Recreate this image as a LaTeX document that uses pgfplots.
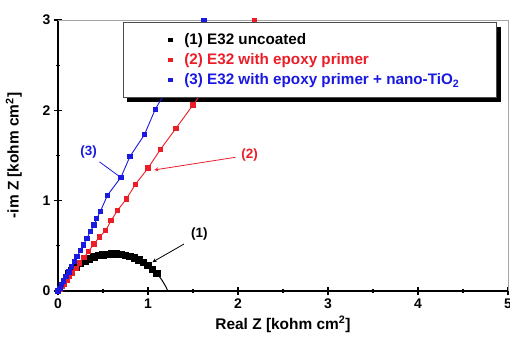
\documentclass[border=0pt]{standalone}
\usepackage{pgfplots}
\pgfplotsset{compat=1.18}
\usepackage{fontspec}
\setmainfont{Liberation Sans}
\usetikzlibrary{calc}
\pgfdeclarelayer{background}
\pgfsetlayers{background,main}
\definecolor{myred}{RGB}{235,30,40}
\definecolor{myblue}{RGB}{25,25,225}
\begin{document}
\begin{tikzpicture}
\begin{axis}[
  scale only axis, width=450bp, height=271bp,
  xmin=0, xmax=5, ymin=0, ymax=3,
  xtick={0,1,2,3,4,5}, ytick={0,1,2,3},
  minor x tick num=1, minor y tick num=1,
  axis x line*=bottom, axis y line*=left,
  axis line style={line width=1.6pt, black},
  tick style={black, line width=1.2pt},
  major tick length=8bp, minor tick length=4bp,
  tick align=center,
  /pgf/number format/assume math mode=true,
  tick label style={font=\bfseries\fontsize{14}{14}\selectfont},
  xlabel={Real Z [kohm cm\textsuperscript{2}]},
  ylabel={-im Z [kohm cm\textsuperscript{2}]},
  label style={font=\bfseries\fontsize{15.5}{17}\selectfont},
  xlabel style={yshift=-1bp},
  ylabel style={yshift=14bp},
  clip=false,
  legend style={name=leg, at={(axis cs:0.722,2.975)}, anchor=north west,
    draw=black!70, line width=0.6pt, fill=white,
    inner xsep=3bp, inner ysep=9bp,
    font=\bfseries\fontsize{15.3}{17}\selectfont,
    row sep=3.6bp},
  legend cell align=left,
  legend image code/.code={\path[draw=none,fill=none] (-44bp,0) -- (12bp,0); \draw[#1] plot coordinates {(0,0)};},
]
% (1) E32 uncoated -- thin arc
\addplot[black, line width=1pt, smooth, forget plot] coordinates {
(0,0) (0.05,0.098) (0.1,0.168) (0.15,0.223) (0.2,0.267) (0.25,0.303) (0.3,0.332)
(0.35,0.356) (0.4,0.375) (0.45,0.390) (0.5,0.400) (0.55,0.407) (0.6,0.410)
(0.65,0.409) (0.7,0.404) (0.75,0.395) (0.8,0.382) (0.85,0.365) (0.9,0.343)
(0.95,0.315) (1.0,0.282) (1.05,0.241) (1.1,0.191) (1.15,0.128) (1.2,0.044) (1.22,0)};
% (1) measured points (dense)
\addplot[black, line width=3.4pt, smooth, mark=square*, mark size=2bp, forget plot] coordinates {
(0.12,0.19) (0.15,0.223) (0.2,0.267) (0.25,0.303) (0.3,0.332)
(0.35,0.356) (0.4,0.375) (0.45,0.390) (0.5,0.400) (0.55,0.407) (0.6,0.410)
(0.65,0.409) (0.7,0.404) (0.75,0.395) (0.8,0.382) (0.85,0.365) (0.9,0.343)
(0.95,0.315) (1.0,0.282) (1.05,0.241) (1.1,0.191)};
% (2) red
\addplot[myred, line width=0.9pt, mark=square*, mark size=2.2bp, forget plot] coordinates {
(0,0) (0.03,0.02) (0.05,0.05) (0.07,0.08) (0.10,0.12) (0.13,0.16) (0.16,0.20)
(0.20,0.25) (0.24,0.31) (0.29,0.37) (0.34,0.44) (0.40,0.52) (0.46,0.60)
(0.53,0.67) (0.59,0.78) (0.66,0.89) (0.76,1.02) (0.86,1.18) (1.0,1.36)
(1.14,1.57) (1.31,1.80) (1.50,2.06) (1.72,2.36) (1.95,2.67) (2.18,2.99)};
% (3) blue
\addplot[myblue, line width=0.9pt, mark=square*, mark size=2.2bp, forget plot] coordinates {
(0,0) (0.02,0.03) (0.04,0.07) (0.06,0.11) (0.09,0.16) (0.12,0.21) (0.15,0.27)
(0.18,0.33) (0.21,0.38) (0.25,0.45) (0.28,0.51) (0.32,0.58) (0.36,0.66)
(0.40,0.73) (0.43,0.80) (0.47,0.88) (0.55,1.06) (0.70,1.26) (0.80,1.49)
(0.96,1.73) (1.08,2.01) (1.22,2.25) (1.40,2.58) (1.62,2.99)};
\addlegendimage{only marks, mark=square*, mark size=1.6bp, black}
\addlegendentry{\makebox[307bp][l]{(1) E32 uncoated}}
\addlegendimage{only marks, mark=square*, mark size=1.6bp, myred}
\addlegendentry{\makebox[307bp][l]{\textcolor{myred}{(2) E32 with epoxy primer}}}
\addlegendimage{only marks, mark=square*, mark size=1.6bp, myblue}
\addlegendentry{\makebox[307bp][l]{\textcolor{myblue}{(3) E32 with epoxy primer + nano-TiO\textsubscript{2}}}}
% annotations
\draw[black, line width=0.8pt, -stealth] (axis cs:1.40,0.52) -- (axis cs:1.05,0.32);
\node[black, font=\bfseries\fontsize{13.5}{13.5}\selectfont] at (axis cs:1.57,0.63) {(1)};
\draw[myred, line width=0.8pt, -stealth] (axis cs:1.97,1.48) -- (axis cs:1.07,1.34);
\node[myred, font=\bfseries\fontsize{13.5}{13.5}\selectfont] at (axis cs:2.13,1.50) {(2)};
\draw[myblue, line width=0.8pt] (axis cs:0.46,1.43) -- (axis cs:0.68,1.27);
\node[myblue, font=\bfseries\fontsize{13.5}{13.5}\selectfont] at (axis cs:0.34,1.54) {(3)};
% thin top and right frame
\draw[black!35, line width=0.6pt] (rel axis cs:0,1) -- (rel axis cs:1,1) -- (rel axis cs:1,0);
\end{axis}
\begin{pgfonlayer}{background}
\fill[black] ($(leg.south west)+(4bp,-4.5bp)$) rectangle ($(leg.north east)+(4bp,-4.5bp)$);
\end{pgfonlayer}
\pgfresetboundingbox
\path (-58bp,-50bp) rectangle (452bp,291bp);
\end{tikzpicture}
\end{document}
